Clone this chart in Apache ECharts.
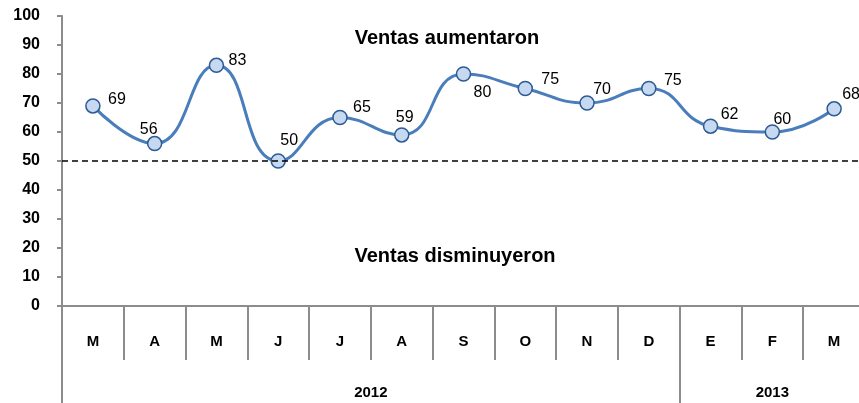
<!DOCTYPE html>
<html>
<head>
<meta charset="utf-8">
<script src="https://cdn.jsdelivr.net/npm/echarts@6/dist/echarts.min.js"></script>
<style>
	html, body { margin: 0; padding: 0; background: #fff; }
	#chart { width: 859px; height: 403px; }
</style>
</head>
<body>
<div id="chart"></div>
<script>
	// datos
	const months = ['M', 'A', 'M', 'J', 'J', 'A', 'S', 'O', 'N', 'D', 'E', 'F', 'M']
	const ventas = [69, 56, 83, 50, 65, 59, 80, 75, 70, 75, 62, 60, 68]
	const years = ['2012', '2013']
	const yearSpans = [10, 3]
	const referencia = 50
	const yTicks = [0, 10, 20, 30, 40, 50, 60, 70, 80, 90, 100]

	// desplazamiento de cada etiqueta respecto al punto (px)
	const labelOffsets = [[24, -6], [-6, -14], [21, -5], [11, -20], [22, -10], [3, -17], [19, 19],
		[25, -9], [15, -13], [24, -8], [19, -12], [10, -12], [17, -14]]

	// limites y centros de cada año en el eje de meses
	let yearBounds = [0]
	let yearCenters = []
	yearSpans.forEach(function (n, i) {
		let start = yearBounds[yearBounds.length - 1]
		yearCenters.push(start + n / 2)
		yearBounds.push(start + n)
	})

	const gray = '#8c8c8c'
	const font = 'Arial, "Liberation Sans", sans-serif'

	const chart = echarts.init(document.getElementById('chart'))
	chart.setOption({
		animation: false,
		grid: {
			left: 62,
			top: 16,
			width: 803,
			height: 290,
			outerBoundsMode: 'none'
		},
		xAxis: [{
			type: 'category',
			data: months,
			boundaryGap: true,
			axisLine: { lineStyle: { color: gray, width: 2 } },
			axisTick: { show: true, interval: 0, length: 54, lineStyle: { color: gray, width: 2 } },
			axisLabel: {
				interval: 0,
				margin: 28,
				color: '#000',
				fontWeight: 'bold',
				fontSize: 15,
				fontFamily: font
			},
			splitLine: { show: false }
		}, {
			type: 'value',
			position: 'bottom',
			offset: 54,
			min: 0,
			max: months.length,
			axisLine: { show: false },
			axisTick: {
				show: true,
				length: 43,
				customValues: yearBounds,
				lineStyle: { color: gray, width: 2 }
			},
			axisLabel: {
				margin: 25,
				customValues: yearCenters,
				formatter: function (v) {
					return years[yearCenters.indexOf(v)]
				},
				color: '#000',
				fontWeight: 'bold',
				fontSize: 15,
				fontFamily: font
			},
			splitLine: { show: false }
		}],
		yAxis: {
			type: 'value',
			min: yTicks[0],
			max: yTicks[yTicks.length - 1],
			interval: 10,
			axisLine: { show: true, lineStyle: { color: gray, width: 2 } },
			axisTick: { show: true, length: 5, lineStyle: { color: gray, width: 2 } },
			axisLabel: {
				margin: 22,
				color: '#000',
				fontWeight: 'bold',
				fontSize: 16,
				fontFamily: font
			},
			splitLine: { show: false }
		},
		series: [{
			name: 'Ventas',
			type: 'line',
			xAxisIndex: 0,
			smooth: 0.5,
			symbol: 'circle',
			symbolSize: 14,
			lineStyle: { color: '#4a7ebb', width: 3 },
			itemStyle: { color: '#c6d9f1', borderColor: '#2c5a94', borderWidth: 1.5 },
			data: ventas.map(function (v, i) {
				return {
					value: v,
					label: { offset: labelOffsets[i] }
				}
			}),
			label: {
				show: true,
				position: 'inside',
				color: '#000',
				textBorderWidth: 0,
				fontSize: 16,
				fontFamily: font
			},
			markLine: {
				silent: true,
				symbol: 'none',
				label: { show: false },
				lineStyle: { color: '#000', type: [6, 4], width: 1.5 },
				data: [{ yAxis: referencia }]
			},
			z: 3
		}],
		graphic: [{
			type: 'text',
			x: 447,
			y: 38,
			style: {
				text: 'Ventas aumentaron',
				fill: '#000',
				font: 'bold 20px ' + font,
				align: 'center',
				verticalAlign: 'middle'
			}
		}, {
			type: 'text',
			x: 455,
			y: 256,
			style: {
				text: 'Ventas disminuyeron',
				fill: '#000',
				font: 'bold 20px ' + font,
				align: 'center',
				verticalAlign: 'middle'
			}
		}]
	})
</script>
</body>
</html>
